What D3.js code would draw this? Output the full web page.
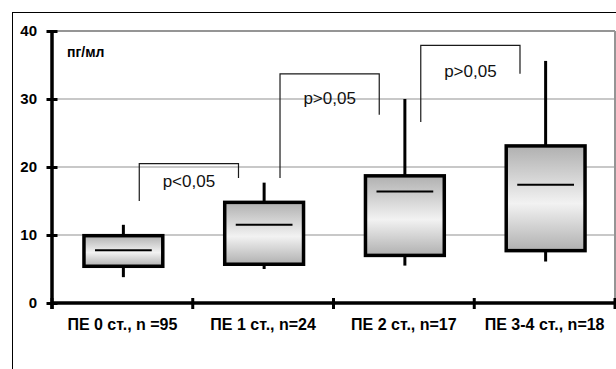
<!DOCTYPE html>
<html>
<head>
<meta charset="utf-8">
<script src="https://cdn.jsdelivr.net/npm/d3@7"></script>
<style>
  html, body { margin: 0; padding: 0; background: #fff; }
  svg { display: block; font-family: "Liberation Sans", Arial, sans-serif; }
</style>
</head>
<body>
<svg id="chart" width="616" height="369"></svg>
<script>
// Groups (x categories)
const categories = ["ПЕ 0 ст., n =95", "ПЕ 1 ст., n=24", "ПЕ 2 ст., n=17", "ПЕ 3-4 ст., n=18"];
// Box statistics, пг/мл
const whiskerLow  = [3.8, 5.0, 5.5, 6.1];
const q1          = [5.4, 5.7, 7.0, 7.7];
const median      = [7.75, 11.5, 16.4, 17.4];
const q3          = [9.9, 14.8, 18.7, 23.1];
const whiskerHigh = [11.5, 17.7, 30.0, 35.6];
// Y axis ticks
const yTicks = [0, 10, 20, 30, 40];
const unitLabel = "пг/мл";
// Pairwise comparison brackets between neighbouring groups
const bracketLabels   = ["p<0,05", "p>0,05", "p>0,05"];
const bracketTop      = [20.5, 33.7, 37.9];
const bracketLeftEnd  = [15.0, 18.4, 26.6];
const bracketRightEnd = [18.4, 27.7, 33.7];
const bracketLabelY   = [17.1, 29.2, 33.3];

const svg = d3.select("#chart");
const plotL = 52, plotR = 615, plotT = 31, plotB = 303;

const x = d3.scaleBand().domain(categories).range([plotL, plotR]).padding(0);
const y = d3.scaleLinear().domain([0, 40]).range([plotB, plotT]);

// outer frame
svg.append("rect")
  .attr("x", 12.5).attr("y", 12.5).attr("width", 700).attr("height", 700)
  .attr("fill", "none").attr("stroke", "#000").attr("stroke-width", 1);

// gradient for box fill
const defs = svg.append("defs");
const grad = defs.append("linearGradient").attr("id", "boxFill")
  .attr("x1", 0).attr("y1", 0).attr("x2", 0).attr("y2", 1);
grad.append("stop").attr("offset", "0%").attr("stop-color", "#b0b0b0");
grad.append("stop").attr("offset", "55%").attr("stop-color", "#f2f2f2");
grad.append("stop").attr("offset", "100%").attr("stop-color", "#b0b0b0");

// gridlines
svg.append("g").selectAll("line")
  .data(yTicks.filter(d => d > 0))
  .join("line")
  .attr("x1", plotL).attr("x2", plotR)
  .attr("y1", d => y(d)).attr("y2", d => y(d))
  .attr("stroke", d => d === 40 ? "#959595" : "#c8c8c8")
  .attr("stroke-width", 2);

// plot area right edge
svg.append("line")
  .attr("x1", plotR).attr("x2", plotR).attr("y1", plotT).attr("y2", plotB)
  .attr("stroke", "#959595").attr("stroke-width", 2);

// brackets
const bw = x.bandwidth();
const bracketG = svg.append("g");
bracketLabels.forEach((lab, i) => {
  const cx0 = x(categories[i]) + bw / 2 + bw * 0.12;
  const cx1 = x(categories[i + 1]) + bw / 2 - bw * 0.175;
  bracketG.append("path")
    .attr("d", `M${cx0},${y(bracketLeftEnd[i])}V${y(bracketTop[i])}H${cx1}V${y(bracketRightEnd[i])}`)
    .attr("fill", "none").attr("stroke", "#1a1a1a").attr("stroke-width", 1.2);
  bracketG.append("text")
    .attr("x", (cx0 + cx1) / 2).attr("y", y(bracketLabelY[i]))
    .attr("text-anchor", "middle")
    .attr("font-size", 17).attr("fill", "#111")
    .text(lab);
});

// boxes
const boxW = bw * 0.56;
const g = svg.append("g").selectAll("g")
  .data(categories.map((c, i) => ({ c, i })))
  .join("g")
  .attr("transform", d => `translate(${x(d.c) + bw / 2 + 1},0)`);

g.append("line")
  .attr("x1", 0).attr("x2", 0)
  .attr("y1", d => y(whiskerHigh[d.i])).attr("y2", d => y(q3[d.i]))
  .attr("stroke", "#000").attr("stroke-width", 3);
g.append("line")
  .attr("x1", 0).attr("x2", 0)
  .attr("y1", d => y(q1[d.i])).attr("y2", d => y(whiskerLow[d.i]))
  .attr("stroke", "#000").attr("stroke-width", 3);
g.append("rect")
  .attr("x", -boxW / 2).attr("width", boxW)
  .attr("y", d => y(q3[d.i]))
  .attr("height", d => y(q1[d.i]) - y(q3[d.i]))
  .attr("fill", "url(#boxFill)")
  .attr("stroke", "#000").attr("stroke-width", 3.5);
g.append("line")
  .attr("x1", -boxW * 0.36).attr("x2", boxW * 0.36)
  .attr("y1", d => y(median[d.i])).attr("y2", d => y(median[d.i]))
  .attr("stroke", "#000").attr("stroke-width", 2);

// y axis
const yAxis = svg.append("g").attr("transform", `translate(${plotL},0)`)
  .call(d3.axisLeft(y).tickValues(yTicks).tickSize(0).tickPadding(15));
yAxis.select(".domain").attr("stroke", "#000").attr("stroke-width", 3.5)
  .attr("d", `M0,${plotT - 1}V${plotB + 6}`);
yAxis.selectAll(".tick line").attr("x1", -5.5).attr("x2", 5.5)
  .attr("stroke", "#000").attr("stroke-width", 3);
yAxis.selectAll(".tick text").attr("font-size", 15).attr("font-weight", "bold")
  .attr("fill", "#000").attr("font-family", "Liberation Sans, Arial, sans-serif");

// x axis
const xAxis = svg.append("g").attr("transform", `translate(0,${plotB})`)
  .call(d3.axisBottom(x).tickSize(0).tickPadding(16));
xAxis.select(".domain").attr("stroke", "#000").attr("stroke-width", 3.5)
  .attr("d", `M${plotL},0H${plotR}`);
xAxis.selectAll(".tick text").attr("font-size", 16).attr("font-weight", "bold")
  .attr("fill", "#000").attr("font-family", "Liberation Sans, Arial, sans-serif");
// category boundary ticks
xAxis.append("g").selectAll("line")
  .data(d3.range(categories.length + 1))
  .join("line")
  .attr("x1", i => i < categories.length ? x(categories[i]) : plotR)
  .attr("x2", i => i < categories.length ? x(categories[i]) : plotR)
  .attr("y1", -5).attr("y2", 6)
  .attr("stroke", "#000").attr("stroke-width", 3);

// unit label
svg.append("text")
  .attr("x", 67).attr("y", 57)
  .attr("font-size", 14).attr("font-weight", "bold")
  .text(unitLabel);
</script>
</body>
</html>
